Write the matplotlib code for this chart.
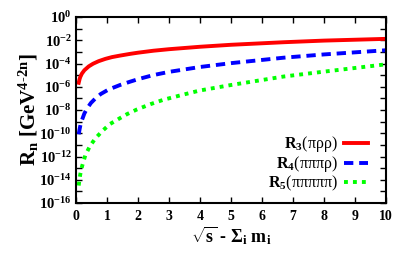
import matplotlib
matplotlib.use("Agg")
import matplotlib.pyplot as plt

plt.rcParams['font.family'] = ['Liberation Serif', 'DejaVu Serif']
plt.rcParams['mathtext.fontset'] = 'custom'
plt.rcParams['mathtext.rm'] = 'Liberation Serif:bold'
plt.rcParams['mathtext.bf'] = 'Liberation Serif:bold'
plt.rcParams['mathtext.it'] = 'Liberation Serif:bold:italic'

# ---- data (y given as -log10 of R_n) ----
x_r3 = [0.087, 0.12, 0.15, 0.19, 0.27, 0.41, 0.55, 0.73, 0.95, 1.16, 1.42, 1.75,
        2.0, 2.5, 3.0, 4.0, 5.0, 6.7, 8.0, 10.0]
e_r3 = [5.66, 5.3, 5.08, 4.87, 4.58, 4.25, 4.02, 3.8, 3.6, 3.45, 3.32, 3.17,
        3.07, 2.9, 2.77, 2.56, 2.39, 2.17, 2.03, 1.88]

x_r4 = [0.087, 0.12, 0.15, 0.19, 0.27, 0.35, 0.48, 0.62, 0.8, 1.05, 1.42, 1.75,
        2.0, 2.49, 3.0, 4.0, 5.0, 6.7, 8.0, 10.0]
e_r4 = [10.09, 9.6, 9.2, 8.88, 8.3, 7.9, 7.4, 7.02, 6.62, 6.24, 5.85, 5.56,
        5.35, 5.0, 4.72, 4.3, 3.97, 3.5, 3.22, 2.86]

x_r5 = [0.087, 0.11, 0.14, 0.2, 0.3, 0.45, 0.62, 0.85, 1.1, 1.42, 1.65, 1.96,
        2.4, 2.82, 3.5, 4.0, 5.0, 6.7, 8.0, 10.0]
e_r5 = [14.5, 14.0, 13.5, 12.8, 11.9, 11.1, 10.46, 9.8, 9.2, 8.7, 8.35, 7.96,
        7.5, 7.12, 6.65, 6.32, 5.85, 5.12, 4.7, 4.07]

labels = [r"$\mathrm{R_3}$(πρρ)", r"$\mathrm{R_4}$(πππρ)", r"$\mathrm{R_5}$(πππππ)"]
x_ticks = list(range(0, 11))
y_major_exp = list(range(-16, 1, 2))
y_minor_exp = list(range(-15, 0, 2))

y_r3 = [10.0 ** (-e) for e in e_r3]
y_r4 = [10.0 ** (-e) for e in e_r4]
y_r5 = [10.0 ** (-e) for e in e_r5]

# ---- figure ----
fig = plt.figure(figsize=(3.99, 2.59), dpi=100)
ax = fig.add_axes([76/399, 1-203/259, 310/399, 186/259])

ax.plot(x_r3, y_r3, color='#ff0000', lw=2.8, ls='-', label=labels[0])
ax.plot(x_r4, y_r4, color='#0000ff', lw=2.8, ls=(0, (2.4, 1.5)), label=labels[1])
ax.plot(x_r5, y_r5, color='#00ff00', lw=2.8, ls=(0, (1.0, 1.3)), label=labels[2])

ax.set_yscale('log')
ax.set_xlim(0, 10)
ax.set_ylim(1e-16, 1)

ax.set_xticks(x_ticks)
ax.set_xticklabels([str(v) for v in x_ticks], fontweight='bold', fontsize=10)
ax.set_yticks([10.0**e for e in y_major_exp])
ax.set_yticklabels([r"$\mathrm{10^{%d}}$" % e for e in y_major_exp], fontsize=10.5)
ax.set_yticks([10.0**e for e in y_minor_exp], minor=True)
ax.yaxis.set_minor_formatter(matplotlib.ticker.NullFormatter())
ax.xaxis.set_minor_locator(matplotlib.ticker.NullLocator())

ax.tick_params(which='both', direction='in', top=True, right=True, length=4, width=1.0)
ax.tick_params(axis='x', pad=5)
ax.tick_params(axis='y', pad=3)
for s in ax.spines.values():
    s.set_linewidth(1.5)

ax.set_ylabel(r"$\mathrm{R_n\ [GeV^{4\text{-}2n}]}$", fontsize=15, labelpad=-1)
ax.set_xlabel(r"$\sqrt{\mathrm{s}}\ \mathrm{\text{-}\ \Sigma_i\ m_i}$", fontsize=13, labelpad=1)

leg = ax.legend(loc='upper right', bbox_to_anchor=(0.942, 0.37), frameon=False,
                markerfirst=False, handlelength=1.5, handletextpad=0.4,
                labelspacing=0.0, borderpad=0, borderaxespad=0,
                prop={'family': 'Liberation Serif', 'size': 11.5})

fig.savefig("out.png", dpi=100)
